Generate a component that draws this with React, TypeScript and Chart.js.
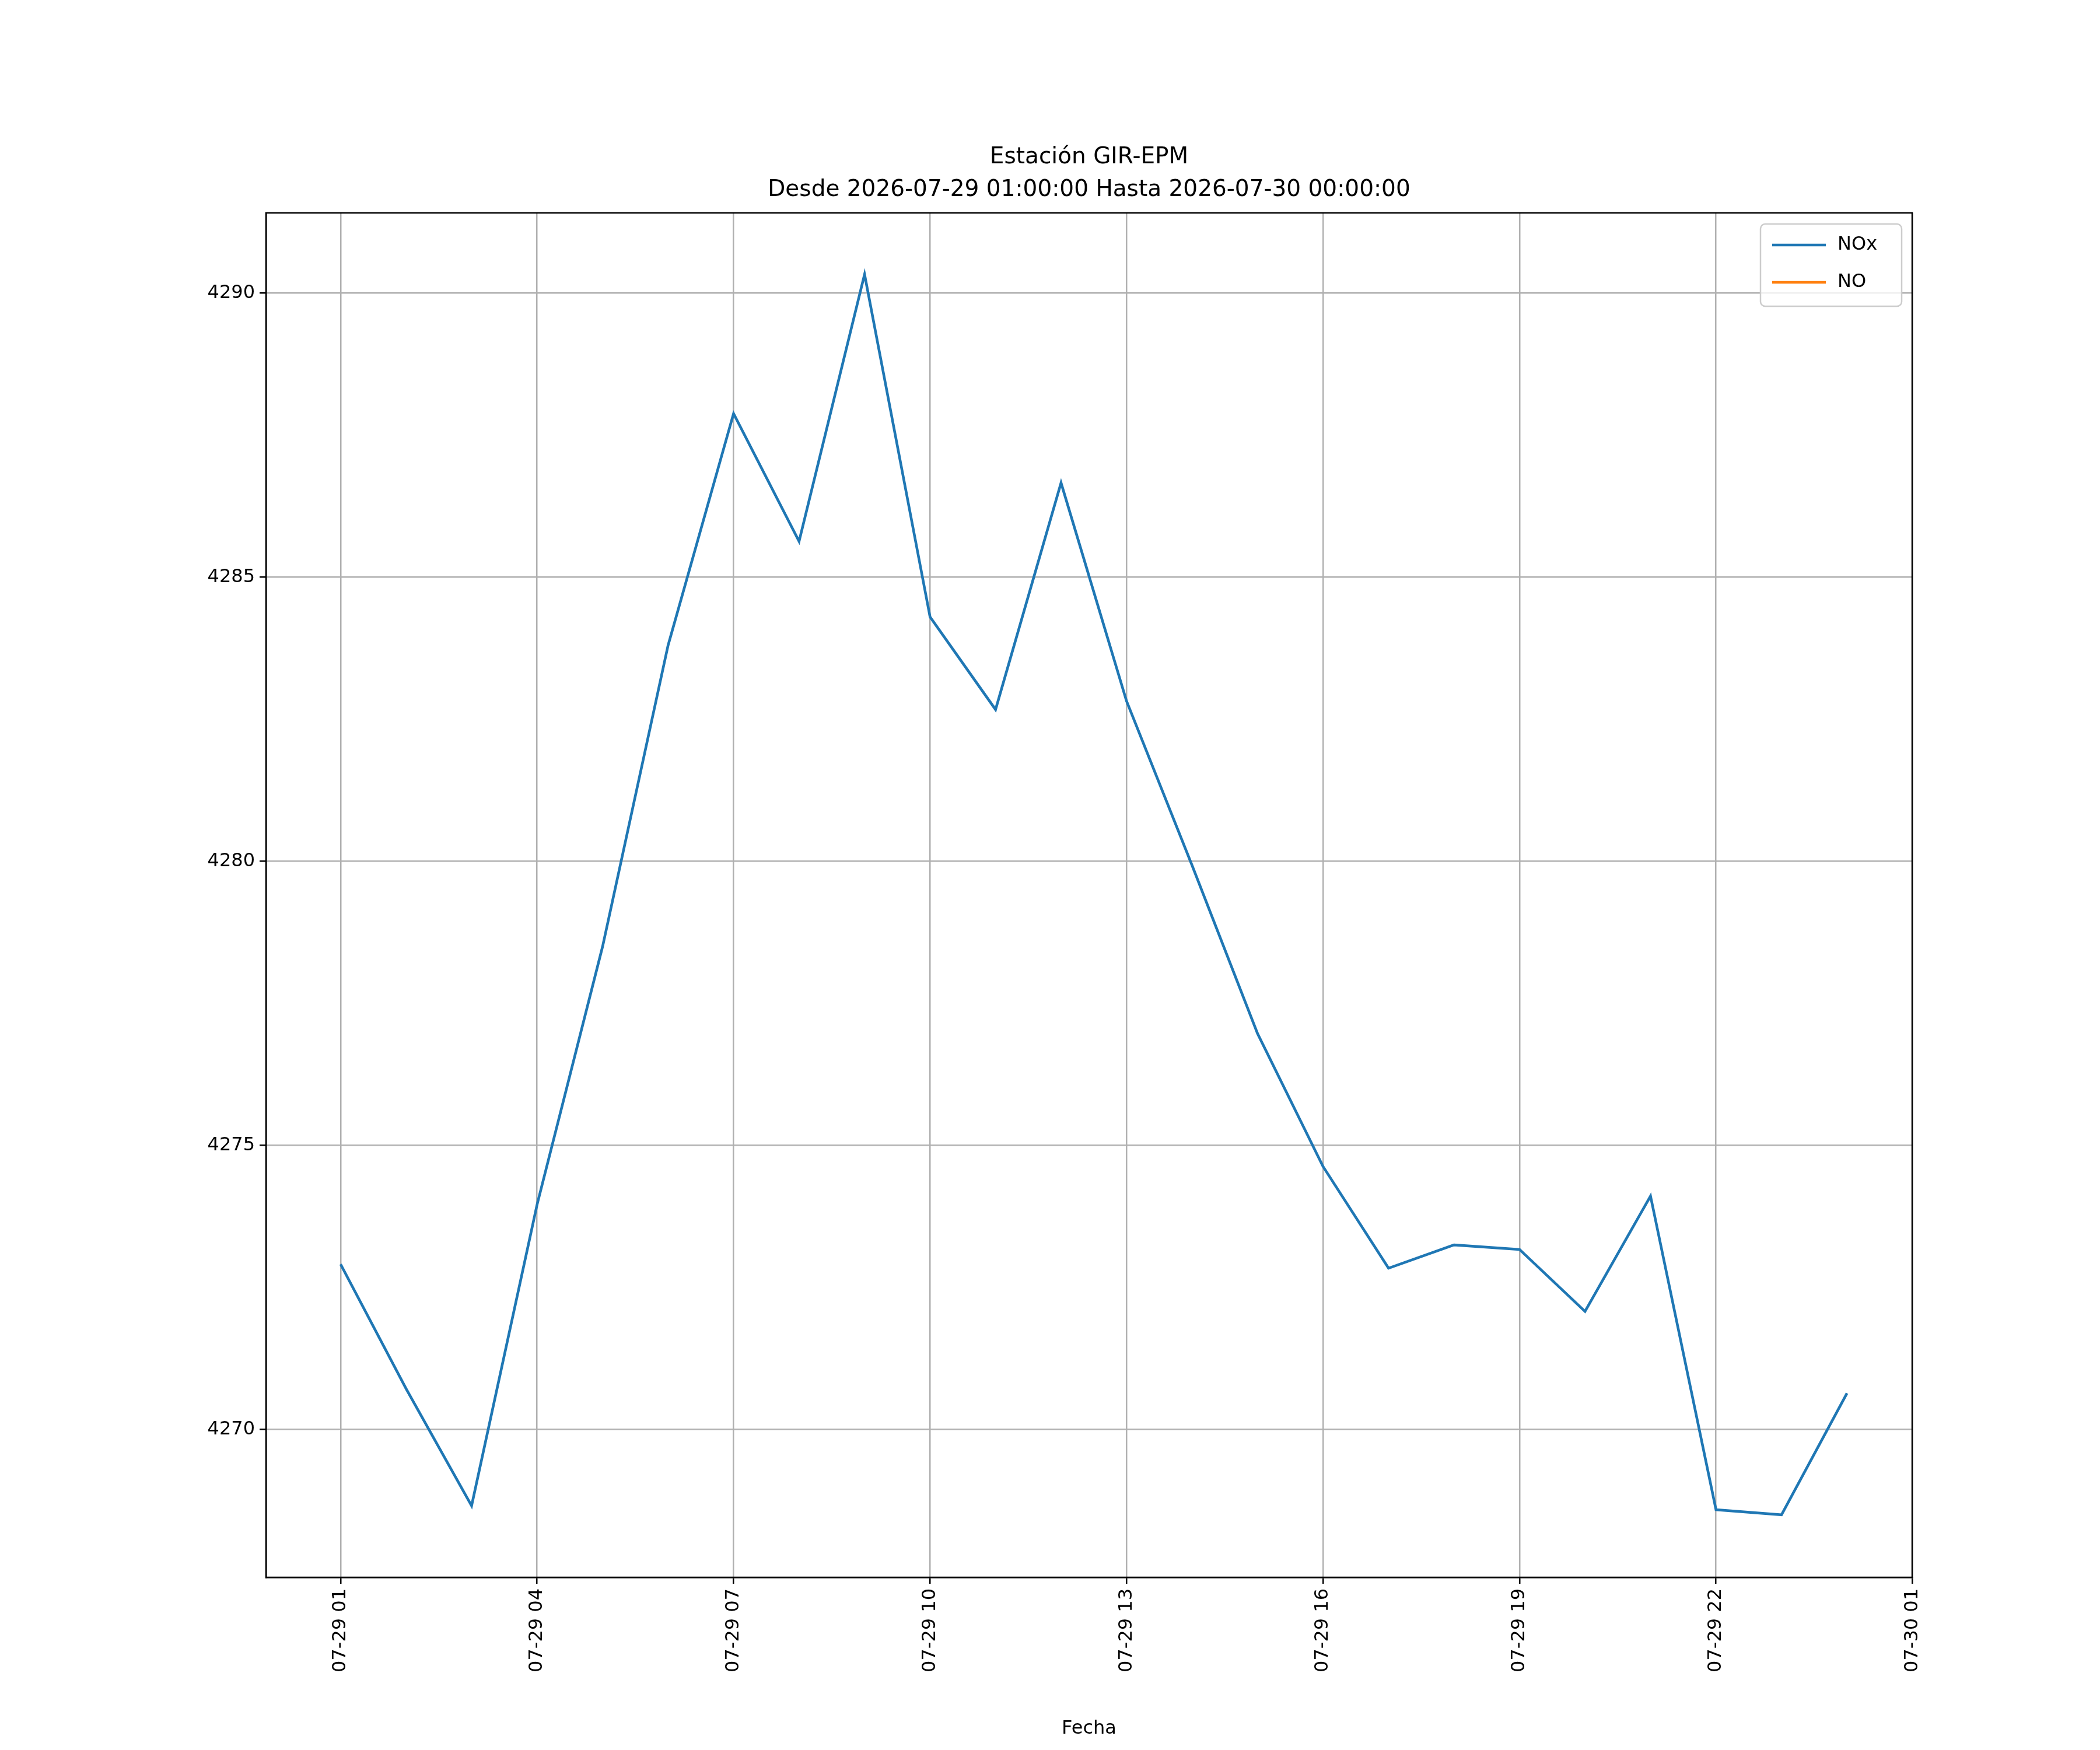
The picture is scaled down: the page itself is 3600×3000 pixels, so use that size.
import React, { useEffect, useRef } from "react";
import { Chart, registerables } from "chart.js";
Chart.register(...registerables);

const hours = [1,2,3,4,5,6,7,8,9,10,11,12,13,14,15,16,17,18,19,20,21,22,23,24];
const noxValues = [4272.91,4270.72,4268.66,4273.96,4278.50,4283.80,4287.88,4285.63,4290.33,4284.30,4282.67,4286.66,4282.82,4279.93,4276.97,4274.63,4272.84,4273.25,4273.17,4272.08,4274.11,4268.59,4268.50,4270.64];
const xTickHours = [1,4,7,10,13,16,19,22,25];
const yTicks = [4270,4275,4280,4285,4290];
const titleLines = ["Estación GIR-EPM", "Desde 2026-07-29 01:00:00 Hasta 2026-07-30 00:00:00"];
const legendLabels = ["NOx", "NO"];
const colors = ["#1f77b4", "#ff7f0e"];

const FONT = "'DejaVu Sans'";
const W = 3600, H = 3000;
const L = 456, R = 3278, T = 365, B = 2704;

function pad(n: number) { return n < 10 ? "0" + n : "" + n; }
function hourLabel(h: number) {
  const day = h >= 24 ? 30 : 29;
  return `07-${day} ${pad(h % 24)}`;
}

export default function App() {
  const ref = useRef<HTMLCanvasElement>(null);
  useEffect(() => {
    document.body.style.margin = "0";
    const overlay = {
      id: "overlay",
      afterDraw(chart: any) {
        const ctx = chart.ctx;
        const ca = chart.chartArea;
        ctx.save();
        ctx.strokeStyle = "#000";
        ctx.lineWidth = 2.5;
        ctx.strokeRect(ca.left, ca.top, ca.right - ca.left, ca.bottom - ca.top);
        ctx.fillStyle = "#000";
        ctx.textAlign = "center";
        ctx.textBaseline = "alphabetic";
        ctx.font = `39px ${FONT}`;
        const cx = (ca.left + ca.right) / 2;
        ctx.fillText(titleLines[0], cx, 280);
        ctx.fillText(titleLines[1], cx, 336);
        ctx.font = `32px ${FONT}`;
        ctx.fillText("Fecha", cx, 2972);
        const lx = 3018, ly = 384, lw = 242, lh = 141;
        ctx.fillStyle = "rgba(255,255,255,0.8)";
        ctx.strokeStyle = "#cccccc";
        ctx.lineWidth = 2.5;
        ctx.beginPath();
        (ctx as any).roundRect(lx, ly, lw, lh, 8);
        ctx.fill(); ctx.stroke();
        ctx.textAlign = "left";
        ctx.textBaseline = "middle";
        legendLabels.forEach((lab, i) => {
          const y = ly + 36 + i * 64;
          ctx.strokeStyle = colors[i];
          ctx.lineWidth = 4.6;
          ctx.beginPath();
          ctx.moveTo(lx + 20, y); ctx.lineTo(lx + 112, y); ctx.stroke();
          ctx.fillStyle = "#000";
          ctx.fillText(lab, lx + 132, y);
        });
        ctx.restore();
      },
    };
    const chart = new Chart(ref.current!, {
      type: "line",
      data: {
        datasets: [
          { label: "NOx", data: hours.map((h, i) => ({ x: h, y: noxValues[i] })), borderColor: colors[0], borderWidth: 4.6, pointRadius: 0, tension: 0 },
          { label: "NO", data: [], borderColor: colors[1], borderWidth: 4.6, pointRadius: 0 },
        ],
      },
      options: {
        animation: false,
        responsive: false,
        devicePixelRatio: 1,
        layout: { padding: { top: T, left: 0, right: W - R, bottom: 0 } },
        plugins: { legend: { display: false }, title: { display: false }, tooltip: { enabled: false } },
        scales: {
          x: {
            type: "linear",
            min: -0.139,
            max: 24.995,
            afterBuildTicks: (s: any) => { s.ticks = xTickHours.map(v => ({ value: v })); },
            afterFit: (s: any) => { s.height = H - B; },
            ticks: { autoSkip: false, minRotation: 90, maxRotation: 90, color: "#000", font: { family: FONT, size: 32 }, padding: 8, callback: (v: any) => hourLabel(Number(v)) },
            grid: { color: "#b0b0b0", lineWidth: 2.5, tickLength: 11, tickColor: "#000" },
            border: { color: "#000", width: 2.5 },
          },
          y: {
            min: 4267.40,
            max: 4291.41,
            afterBuildTicks: (s: any) => { s.ticks = yTicks.map(v => ({ value: v })); },
            afterFit: (s: any) => { s.width = L; },
            ticks: { color: "#000", font: { family: FONT, size: 32 }, padding: 8, callback: (v: any) => String(v) },
            grid: { color: "#b0b0b0", lineWidth: 2.5, tickLength: 11, tickColor: "#000" },
            border: { color: "#000", width: 2.5 },
          },
        },
      },
      plugins: [overlay],
    } as any);
    return () => chart.destroy();
  }, []);
  return <canvas ref={ref} width={W} height={H} style={{ width: W, height: H, display: "block" }} />;
}
